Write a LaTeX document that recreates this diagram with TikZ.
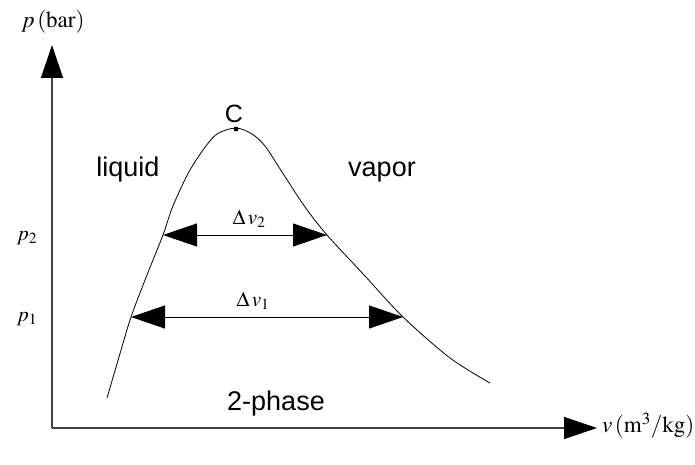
\documentclass[tikz,border=0pt]{standalone}
\usepackage{mathptmx}
\usepackage{fontspec}
\setmainfont{Liberation Sans}
\usepackage{tikz}
\usetikzlibrary{arrows.meta}

\begin{document}
\begin{tikzpicture}[
        x=1pt,y=-1pt,
        every node/.append style={inner sep=0pt}
    ]
    \tikzstyle{ax}=[draw=black!75,line width=1.3pt,-{Triangle[length=33pt,width=22pt,black]}];
    \tikzstyle{dv}=[draw,line width=0.9pt,{Triangle[length=34pt,width=23pt]}-{Triangle[length=34pt,width=23pt]}];
    \tikzstyle{region}=[font=\fontsize{27}{27}\selectfont];
    \tikzstyle{lbl}=[font=\fontsize{21}{21}\selectfont];
    \useasboundingbox (0,0) rectangle (695,465);
    % axes
    \coordinate (o) at (52,428);
    \coordinate (ytip) at (52,45);
    \coordinate (xtip) at (597,428);
    \draw[ax] (o) -- (ytip);
    \draw[ax] (o) -- (xtip);
    \node[lbl,font=\fontsize{23}{23}\selectfont] (ylab) at (53,22) {$p\,(\mathrm{bar})$};
    \node[lbl,font=\fontsize{23}{23}\selectfont,anchor=west] (xlab) at (602,426) {$v\,(\mathrm{m^3/kg})$};
    % dome
    \coordinate (l1) at (131,317);
    \coordinate (l2) at (163,235);
    \coordinate (r2) at (327,235);
    \coordinate (r1) at (403,317);
    \draw[line width=0.8pt] plot[smooth,tension=0.5] coordinates {
        (107,398) (119,357) (l1) (147,275) (l2) (171,211) (180,190) (190,170)
        (203,150) (217,134) (236,128) (252,134) (265,146) (282,172) (305,207)
        (r2) (365,276) (r1) (450,358) (490,383)};
    \node[circle,fill=black,minimum size=5pt] (c) at (236,129) {};
    \node[region,font=\fontsize{25}{25}\selectfont,anchor=south] (clab) at (234,123) {C};
    % widths
    \draw[dv] (l2) -- (r2);
    \draw[dv] (l1) -- (r1);
    \node[lbl] (dv2) at (249,219) {$\Delta\,v_2$};
    \node[lbl] (dv1) at (253,301) {$\Delta\,v_1$};
    \node[lbl] (p2) at (27,238) {$p_2$};
    \node[lbl] (p1) at (27,319) {$p_1$};
    % regions
    \node[region] (liq) at (128,170) {liquid};
    \node[region] (vap) at (382,172) {vapor};
    \node[region] (two) at (276,404) {2-phase};
\end{tikzpicture}
\end{document}
